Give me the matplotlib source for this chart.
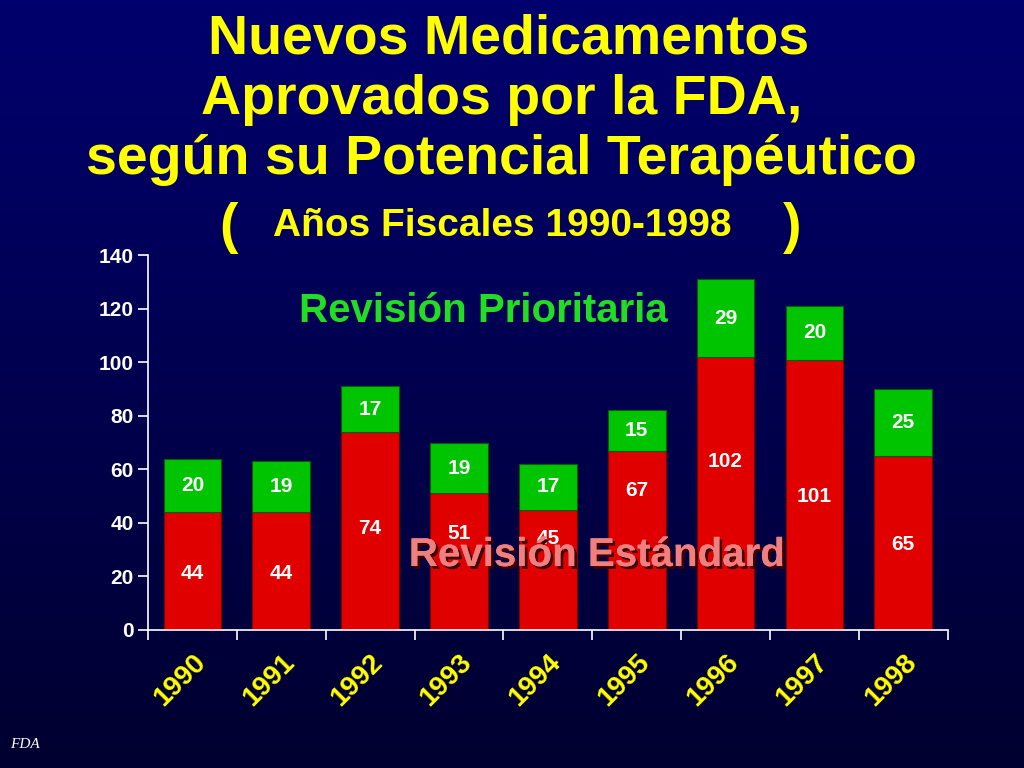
import matplotlib
matplotlib.use("Agg")
import matplotlib.pyplot as plt
import matplotlib.patheffects as pe
import matplotlib.transforms as mtrans
import numpy as np
from matplotlib.colors import LinearSegmentedColormap

years = ["1990", "1991", "1992", "1993", "1994", "1995", "1996", "1997", "1998"]
standard = [44, 44, 74, 51, 45, 67, 102, 101, 65]
priority = [20, 19, 17, 19, 17, 15, 29, 20, 25]
yticks = [0, 20, 40, 60, 80, 100, 120, 140]

# label vertical placement (layout)
std_label_y = [21, 21, 38, 36, 34, 52, 63, 50, 32]

FONT = "Liberation Sans"
fig = plt.figure(figsize=(10.24, 7.68), dpi=100)

bg = fig.add_axes([0, 0, 1, 1], zorder=-10)
grad = np.linspace(0, 1, 256).reshape(-1, 1)
cmap = LinearSegmentedColormap.from_list("bg", ["#00006e", "#000030"])
bg.imshow(grad, aspect="auto", cmap=cmap, extent=[0, 1, 0, 1])
bg.axis("off")

ax = fig.add_axes([0.1445, 0.1797, 0.781, 0.488])
ax.patch.set_alpha(0)
x = np.arange(len(years))
w = 0.65
ax.bar(x, standard, width=w, color="#e00000", edgecolor="#800000", linewidth=0.8)
ax.bar(x, priority, bottom=standard, width=w, color="#00c400", edgecolor="#006000", linewidth=0.8)

for i in range(len(years)):
    ax.text(x[i], std_label_y[i], str(standard[i]), color="white", ha="center", va="center",
            fontsize=15, fontweight="bold", family=FONT)
    ax.text(x[i], standard[i] + priority[i] / 2, str(priority[i]), color="white", ha="center",
            va="center", fontsize=15, fontweight="bold", family=FONT)

ax.set_xlim(-0.5, len(years) - 0.5)
ax.set_ylim(0, 140)
ax.set_yticks(yticks)
ax.set_yticklabels([str(v) for v in yticks], color="white", fontsize=15, fontweight="bold", family=FONT)
ax.set_xticks(x)
ax.set_xticklabels(years, rotation=45, ha="right", rotation_mode="anchor", color="#ffff00",
                   fontsize=20, fontweight="bold", family=FONT)
off = mtrans.ScaledTranslation(-18 / 100, 0, fig.dpi_scale_trans)
for lab in ax.get_xticklabels():
    lab.set_transform(lab.get_transform() + off)
ax.tick_params(axis="x", length=0, pad=14)
ax.set_xticks(np.arange(len(years) + 1) - 0.5, minor=True)
ax.tick_params(axis="x", which="minor", length=7, color="white", width=1.2)
ax.tick_params(axis="y", length=7, color="white", width=1.2, direction="out")
for s in ["top", "right"]:
    ax.spines[s].set_visible(False)
for s in ["left", "bottom"]:
    ax.spines[s].set_color("white")
    ax.spines[s].set_linewidth(1.2)

ax.text(3.27, 119, "Revisión Prioritaria", color="#22dd22", fontsize=29, fontweight="bold",
        family=FONT, ha="center", va="center")
ax.text(4.55, 28, "Revisión Estándard", color="#f08080", fontsize=29, fontweight="bold",
        family=FONT, ha="center", va="center",
        path_effects=[pe.withSimplePatchShadow(offset=(2, -2), shadow_rgbFace="#400000", alpha=1), pe.Normal()])

tkw = dict(color="#ffff00", fontweight="bold", family=FONT, ha="center", va="center")
fig.text(0.497, 1 - 40 / 768, "Nuevos Medicamentos", fontsize=40, **tkw)
fig.text(0.49, 1 - 100 / 768, "Aprovados por la FDA,", fontsize=40, **tkw)
fig.text(0.49, 1 - 160 / 768, "según su Potencial Terapéutico", fontsize=40, **tkw)
fig.text(0.49, 1 - 226 / 768, "Años Fiscales 1990-1998", fontsize=28, **tkw)
fig.text(228 / 1024, 1 - 228 / 768, "(", fontsize=40, **tkw)
fig.text(792 / 1024, 1 - 228 / 768, ")", fontsize=40, **tkw)

fig.text(0.01, 1 - 745 / 768, "FDA", color="white", fontsize=11, style="italic",
         family="Liberation Serif", va="center")

fig.savefig("out.png", dpi=100)
